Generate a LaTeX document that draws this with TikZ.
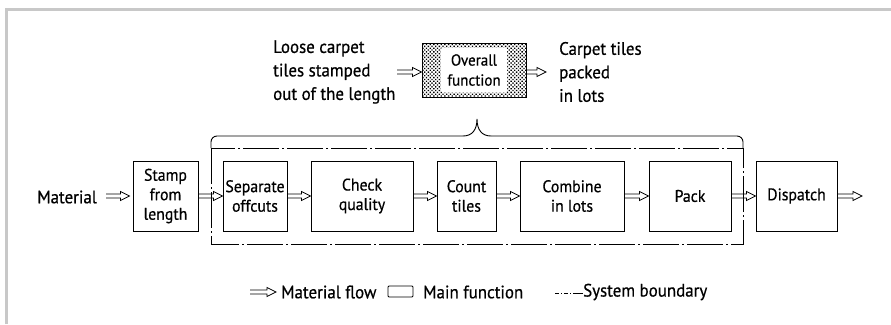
\documentclass[tikz,border=0pt]{standalone}
\usepackage{fontspec}
\setmainfont{PT Sans}[FakeStretch=0.94, FakeBold=0.6]
\usetikzlibrary{calc,patterns.meta}
\definecolor{framegray}{RGB}{200,200,200}
\tikzset{
  fbox/.style={draw, line width=0.9pt, rectangle, inner sep=0pt, minimum height=70pt, align=center, font=\fontsize{16.8}{19.5}\selectfont},
  lbl/.style={inner sep=0pt, font=\fontsize{18}{23.5}\selectfont},
  flow/.style={draw, line width=0.8pt, line join=miter, to path={
    ($(\tikztostart)+(0,2pt)$) -- ($(\tikztotarget)+(-9pt,2pt)$) -- ($(\tikztotarget)+(-9pt,4.5pt)$)
    -- (\tikztotarget) -- ($(\tikztotarget)+(-9pt,-4.5pt)$) -- ($(\tikztotarget)+(-9pt,-2pt)$)
    -- ($(\tikztostart)+(0,-2pt)$)}},
  boundary/.style={line width=0.9pt, dash pattern=on 36pt off 3pt on 2pt off 3pt},
}
\begin{document}
\begin{tikzpicture}[x=1pt,y=-1pt]
\useasboundingbox (0,0) rectangle (891,324);
% frame
\draw[framegray, line width=2.5pt] (6.3,324) -- (6.3,9.5) -- (891,9.5);
% overall function
\node[draw, line width=1pt, pattern={Dots[distance=2.6pt, radius=0.95pt, angle=45]}, minimum width=104pt, minimum height=54pt, inner sep=0pt] (overall) at (474,70) {};
\fill[white, rounded corners=2pt] (441,47.5) rectangle (507,92.5);
\node[lbl, align=center, font=\fontsize{16}{20}\selectfont] (ovtxt) at (474,70) {Overall\\function};
\node[lbl, align=left, anchor=west] (intext) at (273,72) {Loose carpet\\tiles stamped\\out of the length};
\node[lbl, align=left, anchor=west] (outtext) at (559,72) {Carpet tiles\\packed\\in lots};
\coordinate (in0) at (397,72);
\coordinate (out1) at (546,72);
\draw[flow] (in0) to (overall.west |- in0);
\draw[flow] (overall.east |- out1) to (out1);
% brace
\draw[line width=0.9pt, rounded corners=6pt] (211,148) -- (211,136) -- (463,136);
\draw[line width=0.9pt] (463,136) .. controls (472,136) and (477,130) .. (477,119)
  .. controls (477,130) and (482,136) .. (491,136);
\draw[line width=0.9pt, rounded corners=6pt] (491,136) -- (743,136) -- (743,148);
% system boundary
\draw[boundary] (211,148) rectangle (743,244);
% chain
\node[lbl, anchor=east] (mat) at (97,197) {Material};
\coordinate (m0) at (106,196);
\node[fbox, minimum width=65pt] (stamp) at (165.5,196) {Stamp\\from\\length};
\node[fbox, minimum width=64pt] (sep) at (255,196) {Separate\\offcuts};
\node[fbox, minimum width=102pt] (check) at (362,196) {Check\\quality};
\node[fbox, minimum width=59pt] (count) at (466.5,196) {Count\\tiles};
\node[fbox, minimum width=104pt] (comb) at (572,196) {Combine\\in lots};
\node[fbox, minimum width=82pt] (pack) at (690,196) {Pack};
\node[fbox, minimum width=81pt] (disp) at (796.5,196) {Dispatch};
\coordinate (d1) at (862,196);
\draw[flow] (m0) to ($(stamp.west)+(-3pt,0)$);
\draw[flow] (stamp.east) to (sep.west);
\draw[flow] (sep.east) to (check.west);
\draw[flow] (check.east) to (count.west);
\draw[flow] (count.east) to (comb.west);
\draw[flow] (comb.east) to (pack.west);
\draw[flow] (pack.east) to (disp.west);
\draw[flow] (disp.east) to (d1);
% legend
\coordinate (la0) at (250,292);
\coordinate (la1) at (276,292);
\draw[flow] (la0) to (la1);
\node[lbl, anchor=west] (lt1) at (281,292) {Material flow};
\node[draw, line width=0.8pt, rounded corners=1pt, minimum width=25pt, minimum height=11pt, inner sep=0pt] (lbox) at (400.5,291.5) {};
\node[lbl, anchor=west] (lt2) at (423,292) {Main function};
\coordinate (lb0) at (555,293);
\coordinate (lb1) at (583,293);
\draw[line width=0.8pt, dash pattern=on 4pt off 2pt on 1.2pt off 2pt on 4pt off 2pt on 1.2pt off 2pt on 10pt] (lb0) -- (lb1);
\node[lbl, anchor=west] (lt3) at (583,292) {System boundary};
\end{tikzpicture}
\end{document}
